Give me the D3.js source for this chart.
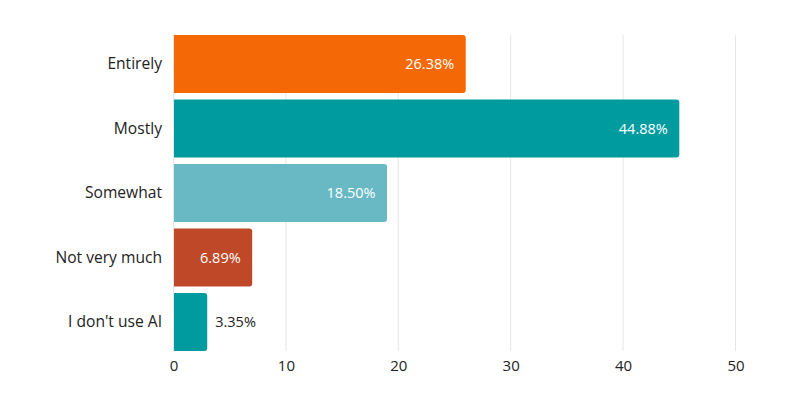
<!DOCTYPE html>
<html><head><meta charset="utf-8">
<script src="https://cdn.jsdelivr.net/npm/d3@7"></script>
<style>body{margin:0;background:#fff}svg{display:block}text{font-family:"Open Sans",Lato,sans-serif}</style>
</head><body><svg id="c" width="800" height="400"></svg>
<script>
const categories = ["Entirely","Mostly","Somewhat","Not very much","I don't use AI"];
const values = [26, 45, 19, 7, 3];
const valueLabels = ["26.38%","44.88%","18.50%","6.89%","3.35%"];
const colors = ["#F46905","#009B9F","#68B9C3","#BE4827","#009B9F"];
const xTicks = [0,10,20,30,40,50];

const svg = d3.select("#c");
const x = d3.scaleLinear().domain([0,50]).range([173.5,735.5]);
const y = d3.scaleBand().domain(categories).range([35,351]).paddingInner(0.1).paddingOuter(0);

// grid
svg.append("g").selectAll("line").data(xTicks).join("line")
  .attr("x1",d=>x(d)).attr("x2",d=>x(d)).attr("y1",35).attr("y2",351)
  .attr("stroke","#e6e6e6").attr("stroke-width",1);

// bars with rounded right corners
const r = 3;
svg.append("g").selectAll("path").data(categories).join("path")
  .attr("d",(c,i)=>{
    const x0=x(0)+0.5, x1=x(values[i]), y0=y(c), h=y.bandwidth();
    return `M${x0},${y0}H${x1-r}Q${x1},${y0} ${x1},${y0+r}V${y0+h-r}Q${x1},${y0+h} ${x1-r},${y0+h}H${x0}Z`;
  })
  .attr("fill",(c,i)=>colors[i]);

// value labels
svg.append("g").selectAll("text").data(categories).join("text")
  .each(function(c,i){
    const t=d3.select(this);
    const inside = values[i] > 5;
    t.attr("x", inside ? x(values[i])-11.5 : x(values[i])+8)
     .attr("y", y(c)+y.bandwidth()/2)
     .attr("dy","0.35em")
     .attr("text-anchor", inside ? "end" : "start")
     .attr("fill", inside ? "#fff" : "#222")
     .attr("font-size",14.5)
     .text(valueLabels[i]);
  });

// y axis labels
svg.append("g").selectAll("text").data(categories).join("text")
  .attr("x",162).attr("y",c=>y(c)+y.bandwidth()/2).attr("dy","0.35em")
  .attr("text-anchor","end").attr("fill","#222").attr("font-size",15.6)
  .text(c=>c);

// x axis
const ax = svg.append("g").attr("transform","translate(0,351)")
  .call(d3.axisBottom(x).tickValues(xTicks).tickSize(0).tickPadding(9));
ax.select(".domain").remove();
ax.selectAll("text").attr("font-size",15).attr("fill","#222").style("font-family","'Open Sans',Lato,sans-serif");
</script></body></html>
